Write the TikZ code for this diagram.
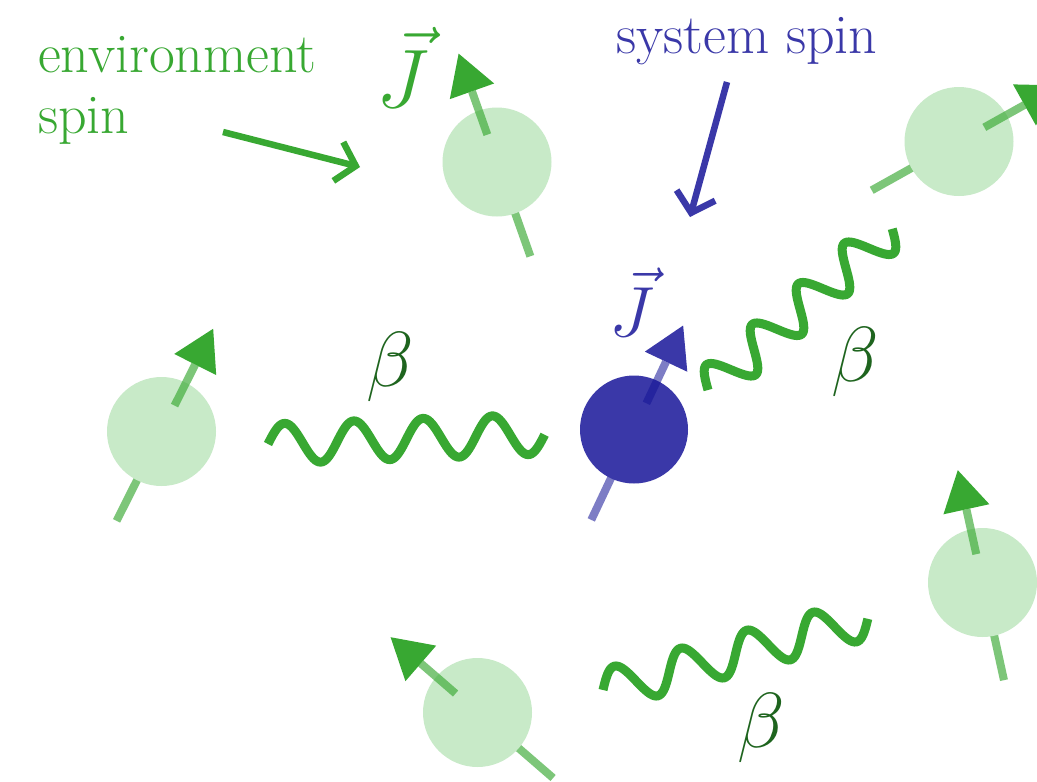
\RequirePackage{fix-cm}
\documentclass[tikz,border=0pt]{standalone}
\usetikzlibrary{calc,arrows.meta}
\definecolor{envgreen}{RGB}{56,168,50}
\definecolor{ballgreen}{RGB}{200,234,200}
\definecolor{sysblue}{RGB}{58,56,168}
\definecolor{sysrodblue}{RGB}{20,20,150}
\definecolor{betagreen}{RGB}{30,100,30}
\tikzset{
  env rod/.style={draw=envgreen, draw opacity=0.65, line width=8pt},
  sys rod/.style={draw=sysrodblue, draw opacity=0.55, line width=8pt},
  env ball/.style={circle, fill=ballgreen, minimum size=109pt, inner sep=0pt},
  sys ball/.style={circle, fill=sysblue, minimum size=108pt, inner sep=0pt},
  env head/.style={fill=envgreen},
  sys head/.style={fill=sysblue},
  coupling/.style={draw=envgreen, line width=9pt},
  pointer/.style={line width=6.5pt, -{Straight Barb[length=18pt,width=40pt]}},
  envtext/.style={text=envgreen, font=\fontsize{56}{64}\selectfont, inner sep=0pt},
  systext/.style={text=sysblue, font=\fontsize{56}{64}\selectfont, inner sep=0pt},
  betalabel/.style={text=betagreen, font=\fontsize{78}{90}\selectfont, inner sep=0pt},
}
% #1 name, #2 x, #3 y, #4 angle (screen, clockwise), #5 kind (env/sys)
\newcommand{\drawspin}[5]{%
  \coordinate (#1-c) at (#2,#3);
  \draw[#5 rod] ($(#1-c)+(#4:-100)$) -- (#1-c);
  \node[#5 ball] (#1) at (#1-c) {};
  \draw[#5 rod] ($(#1)+(#4:29)$) -- ($(#1)+(#4:75)$);
  \fill[#5 head] ($(#1)+(#4:115)$) -- ($(#1)+(#4:75)+(#4+90:23.5)$) -- ($(#1)+(#4:75)+(#4-90:23.5)$) -- cycle;
}
% #1 name, #2 x0, #3 y0, #4 x1, #5 y1
\newcommand{\wavy}[5]{%
  \coordinate (#1-a) at (#2,#3);
  \coordinate (#1-b) at (#4,#5);
  \pgfmathsetmacro\wdx{#4-#2}%
  \pgfmathsetmacro\wdy{#5-#3}%
  \pgfmathsetmacro\wlen{veclen(\wdx,\wdy)}%
  \pgfmathsetmacro\wnx{20*\wdy/\wlen}%
  \pgfmathsetmacro\wny{-20*\wdx/\wlen}%
  \draw[coupling] plot[variable=\wt, domain=0:1, samples=161, smooth]
    ({#2+\wdx*\wt+\wnx*sin(1440*\wt)}, {#3+\wdy*\wt+\wny*sin(1440*\wt)});
}
\begin{document}
\begin{tikzpicture}[x=1pt,y=-1pt]
\useasboundingbox (0,0) rectangle (1037,782);
\fill[white] (0,0) rectangle (1037,782);

% spins
\drawspin{e1}{497}{162}{-109.5}{env}
\drawspin{e2}{959}{141.5}{-29.2}{env}
\drawspin{e3}{161.5}{431.5}{-63.3}{env}
\drawspin{e4}{982.5}{582.5}{-102.4}{env}
\drawspin{e5}{477.5}{712.5}{-139.1}{env}
\drawspin{sys}{634}{429.5}{-64.7}{sys}

% couplings
\wavy{w1}{268}{444}{545}{434}
\wavy{w2}{708}{390}{892}{228}
\wavy{w3}{603}{690}{868}{618}

% labels
\node[betalabel] (b1) at (390,366.5) {$\beta$};
\node[betalabel] (b2) at (855,362) {$\beta$};
\node[betalabel] (b3) at (761.5,728) {$\beta$};

\node[envtext, anchor=base west] (envl1) at (38,72) {environment};
\node[envtext, anchor=base west] (envl2) at (38,133) {spin};
\node[systext, anchor=base west] (sysl) at (616,53) {system spin};

\node[text=envgreen, font=\fontsize{83}{95}\selectfont, inner sep=0pt, anchor=base west] (j1) at (376,107) {$\vec{J}$};
\node[text=sysblue, font=\fontsize{71}{82}\selectfont, inner sep=0pt, anchor=base west] (j2) at (609,336) {$\vec{J}$};

% pointers
\coordinate (ea) at (223,132);
\coordinate (eb) at (360,167);
\draw[pointer, draw=envgreen] (ea) -- (eb);
\coordinate (sa) at (727,82);
\coordinate (sb) at (690,217);
\draw[pointer, draw=sysblue] (sa) -- (sb);
\end{tikzpicture}
\end{document}
